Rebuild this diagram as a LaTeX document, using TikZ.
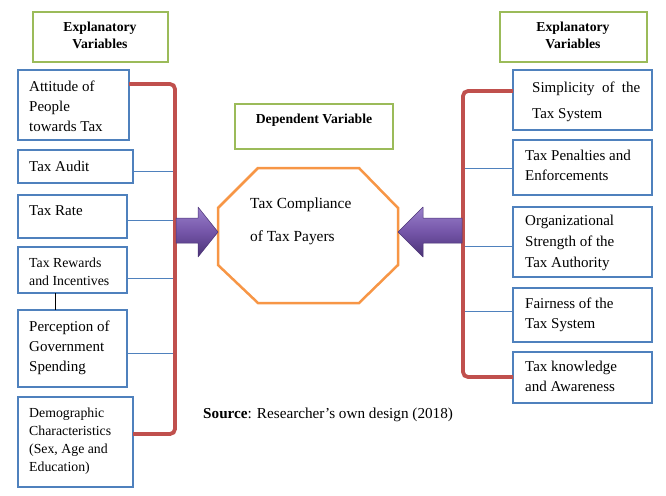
\documentclass[tikz,border=0pt]{standalone}
\usepackage{fontspec}
\setmainfont{Liberation Serif}
\usetikzlibrary{shadows}
\definecolor{boxblue}{HTML}{4F81BD}
\definecolor{hdrgreen}{HTML}{9BBB59}
\definecolor{brred}{HTML}{C0504D}
\definecolor{octorange}{HTML}{F79646}
\definecolor{arrpurple}{HTML}{7455A8}
\definecolor{arrlight}{HTML}{9A80CB}
\definecolor{arrdark}{HTML}{4A3275}
\begin{document}
\begin{tikzpicture}[x=1pt,y=-1pt,
  bbox/.style={draw=boxblue, line width=2.6pt, fill=white, anchor=north west, inner sep=0pt, outer sep=0pt,
    drop shadow={shadow xshift=1.2pt, shadow yshift=-1.2pt, opacity=0.25}},
  hbox/.style={draw=hdrgreen, line width=2.4pt, fill=white, anchor=north west, inner sep=0pt, outer sep=0pt},
  txt/.style={anchor=base west, inner sep=0pt, align=left, font=\fontsize{15}{20}\selectfont},
  rtxt/.style={anchor=base west, inner sep=0pt, align=left, font=\fontsize{15}{20}\selectfont},
  stxt/.style={anchor=base west, inner sep=0pt, align=left, font=\fontsize{13.8}{18}\selectfont},
  htxt/.style={anchor=base, inner sep=0pt, align=center, font=\fontsize{13.7}{16.5}\selectfont\bfseries},
  redline/.style={draw=brred, line width=3.8pt, rounded corners=5pt},
  thinblue/.style={draw=boxblue, line width=0.8pt},
  purplearrow/.style={top color=arrlight, bottom color=arrdark, middle color=arrpurple},
]
\useasboundingbox (0,0) rectangle (666,495);

% headers
\node[hbox, minimum width=135pt, minimum height=50pt] (hl) at (33,12) {};
\node[htxt] (hlt) at (100,48.5) {Explanatory\\Variables};
\node[hbox, minimum width=147pt, minimum height=50pt] (hr) at (500,12) {};
\node[htxt] (hrt) at (573,48.5) {Explanatory\\Variables};
\node[hbox, minimum width=158pt, minimum height=45pt] (hd) at (235,104) {};
\node[htxt] (hdt) at (314,123) {Dependent Variable};

% left boxes
\node[bbox, minimum width=111pt, minimum height=70pt] (att) at (18,70) {};
\node[bbox, minimum width=115pt, minimum height=33pt] (aud) at (18,150) {};
\node[bbox, minimum width=109pt, minimum height=43pt] (rate) at (18,195) {};
\node[bbox, minimum width=109pt, minimum height=46pt] (rew) at (18,247) {};
\node[bbox, minimum width=109pt, minimum height=77pt] (perc) at (18,310) {};
\node[bbox, minimum width=115pt, minimum height=90pt] (demo) at (18,397) {};

\node[txt] (attt) at (29,131) {Attitude of\\People\\towards Tax};
\node[txt] (audt) at (29,171) {Tax Audit};
\node[txt] (ratet) at (29,215) {Tax Rate};
\node[stxt] (rewt) at (29,285) {Tax Rewards\\and Incentives};
\node[txt] (perct) at (29,371) {Perception of\\Government\\Spending};
\node[stxt] (demot) at (29,471) {Demographic\\Characteristics\\(Sex, Age and\\Education)};

% right boxes
\node[bbox, minimum width=139pt, minimum height=60pt] (simp) at (513,70) {};
\node[bbox, minimum width=139pt, minimum height=55pt] (pen) at (513,140) {};
\node[bbox, minimum width=139pt, minimum height=70pt] (org) at (513,207) {};
\node[bbox, minimum width=139pt, minimum height=54pt] (fair) at (513,288) {};
\node[bbox, minimum width=139pt, minimum height=51pt] (know) at (513,352) {};

\node[rtxt, font=\fontsize{15}{26}\selectfont] (simpt) at (532,118) {\hbox to 108pt{Simplicity\hfil of\hfil the}\\Tax System};
\node[rtxt] (pent) at (525,180) {Tax Penalties and\\Enforcements};
\node[rtxt, font=\fontsize{15}{21}\selectfont] (orgt) at (525,267) {Organizational\\Strength of the\\Tax Authority};
\node[rtxt] (fairt) at (525,328) {Fairness of the\\Tax System};
\node[rtxt] (knowt) at (525,391) {Tax knowledge\\and Awareness};

% left bracket
\coordinate (lt) at (175,84);
\coordinate (lb) at (175,434);
\draw[thinblue] (aud.east |- 0,171) -- (lt |- 0,171);
\draw[thinblue] (rate.east |- 0,220) -- (lt |- 0,220);
\draw[thinblue] (rew.east |- 0,278) -- (lt |- 0,278);
\draw[thinblue] (perc.east |- 0,353) -- (lt |- 0,353);
\draw[redline] (lt -| att.east) -- (lt) -- (lb) -- (lb -| demo.east);
\draw[line width=0.8pt] (rew.south -| 55,0) -- (perc.north -| 55,0);

% right bracket
\coordinate (rt) at (463,91);
\coordinate (rb) at (463,377);
\draw[thinblue] (pen.west |- 0,168) -- (rt |- 0,168);
\draw[thinblue] (org.west |- 0,246) -- (rt |- 0,246);
\draw[thinblue] (fair.west |- 0,311) -- (rt |- 0,311);
\draw[redline] (rt -| simp.west) -- (rt) -- (rb) -- (rb -| know.west);

% octagon
\draw[octorange, line width=2.5pt, fill=white, line join=miter]
  (258,168) -- (359,168) -- (398,208) -- (398,265) -- (359,303) -- (258,303) -- (218,265) -- (218,208) -- cycle;
\node[anchor=base west, inner sep=0pt, align=left, font=\fontsize{15.4}{33}\selectfont] (oct) at (250,241) {Tax Compliance\\of Tax Payers};

% arrows
\shade[purplearrow] (176,218) -- (198,218) -- (198,207) -- (218,232) -- (198,257) -- (198,243) -- (176,243) -- cycle;
\draw[arrdark, line width=0.5pt, line join=round] (176,218) -- (198,218) -- (198,207) -- (218,232) -- (198,257) -- (198,243) -- (176,243) -- cycle;
\shade[purplearrow] (462,218) -- (423,218) -- (423,207) -- (398,232) -- (423,257) -- (423,243) -- (462,243) -- cycle;
\draw[arrdark, line width=0.5pt, line join=round] (462,218) -- (423,218) -- (423,207) -- (398,232) -- (423,257) -- (423,243) -- (462,243) -- cycle;

% source
\node[anchor=base west, inner sep=0pt, font=\fontsize{15.2}{18}\selectfont] (src) at (203,418) {\textbf{Source}: Researcher’s own design (2018)};
\end{tikzpicture}
\end{document}
